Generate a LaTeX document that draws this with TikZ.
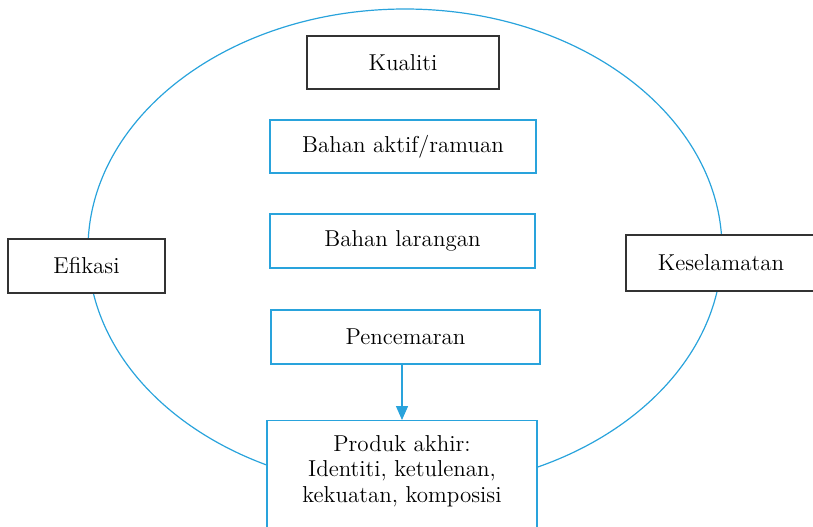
\documentclass[tikz,border=0pt]{standalone}
\usepackage{tikz}
\usetikzlibrary{arrows.meta,positioning}
\usepackage{xcolor}
\definecolor{rim}{HTML}{29A3DC}
\definecolor{edge}{HTML}{333333}

\begin{document}
\begin{tikzpicture}[x=0.5pt,y=-0.5pt,
  box/.style={draw=rim,line width=0.7pt,fill=white,inner sep=0pt,align=center,font=\fontsize{11.5}{12.75}\selectfont},
  plainbox/.style={box,draw=edge}]
  \useasboundingbox (0,0) rectangle (813,526);
  \clip (0,0) rectangle (813,526);

  % Ring
  \draw[rim,line width=0.6pt] (405,249) ellipse [x radius=317, y radius=240];

  % Top and inner boxes
  \node[plainbox,minimum width=96pt,minimum height=26.5pt] (kual) at (403,62.5) {Kualiti};
  \node[box,minimum width=133pt,minimum height=26.5pt] (aktif) at (403,146.5) {Bahan aktif/ramuan};
  \node[box,minimum width=132.5pt,minimum height=27pt] (larang) at (402.5,241) {Bahan larangan};
  \node[box,minimum width=134.5pt,minimum height=27pt] (cemar) at (405.5,337) {Pencemaran};

  % Final product
  \node[box,anchor=north,minimum width=135pt,minimum height=61pt] (produk) at (402,420)
    {Produk akhir:\\Identiti, ketulenan,\\kekuatan, komposisi\\ \mbox{}};

  % Side boxes
  \node[plainbox,minimum width=78.5pt,minimum height=27pt] (efik) at (86.5,266) {Efikasi};
  \node[plainbox,minimum width=95pt,minimum height=28pt] (selamat) at (721,263) {Keselamatan};

  % Arrow
  \draw[rim,line width=0.7pt,-{Triangle[length=7pt,width=6pt]}] (cemar.south -| produk.north) -- (produk.north);
\end{tikzpicture}
\end{document}
